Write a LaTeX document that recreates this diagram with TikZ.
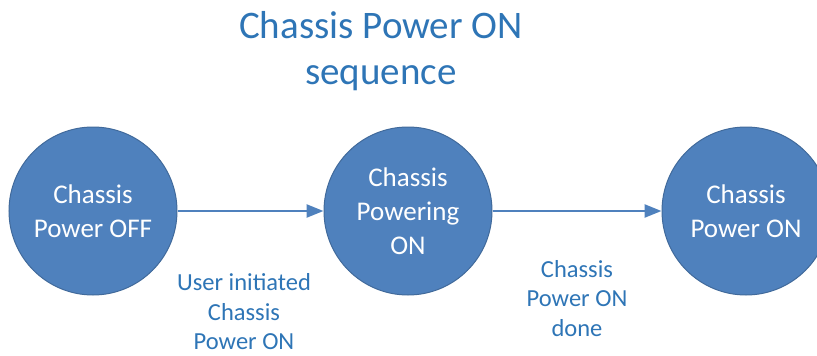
\documentclass[tikz,border=0pt]{standalone}
\usepackage{fontspec}
\setmainfont{Carlito}
\usetikzlibrary{positioning, arrows.meta}
\definecolor{stateblue}{RGB}{79,129,189}
\definecolor{stateline}{RGB}{65,106,155}
\definecolor{labelblue}{RGB}{46,117,182}

\begin{document}
\begin{tikzpicture}[x=1pt,y=-1pt,on grid,>={Triangle[length=17pt,width=13pt]},
    state/.style={circle,fill=stateblue,draw=stateline,line width=1pt,minimum size=168pt,inner sep=0pt,
      text=white,align=center,font=\fontsize{27}{34}\selectfont},
    lbl/.style={text=labelblue,align=center,font=\fontsize{24.5}{29.5}\selectfont}]
      \useasboundingbox (0,0) rectangle (817,356);
      \node[text=labelblue,align=center,font=\fontsize{39}{46}\selectfont] (title) at (381,51) {Chassis Power ON\\sequence};
      \node[state] (off) at (93,211) {Chassis\\Power OFF};
      \node[state] (pwring) [right=315pt of off] {Chassis\\Powering\\ON};
      \node[state] (on) [right=338pt of pwring] {Chassis\\Power ON};
      \path[->,stateblue,line width=2.5pt]
      (off) edge (pwring)
      (pwring) edge (on);
      \node[lbl] (usr) at (244,312) {User initiated\\Chassis\\Power ON};
      \node[lbl] (done) at (577,298.5) {Chassis\\Power ON\\done};
    \end{tikzpicture}
\end{document}
